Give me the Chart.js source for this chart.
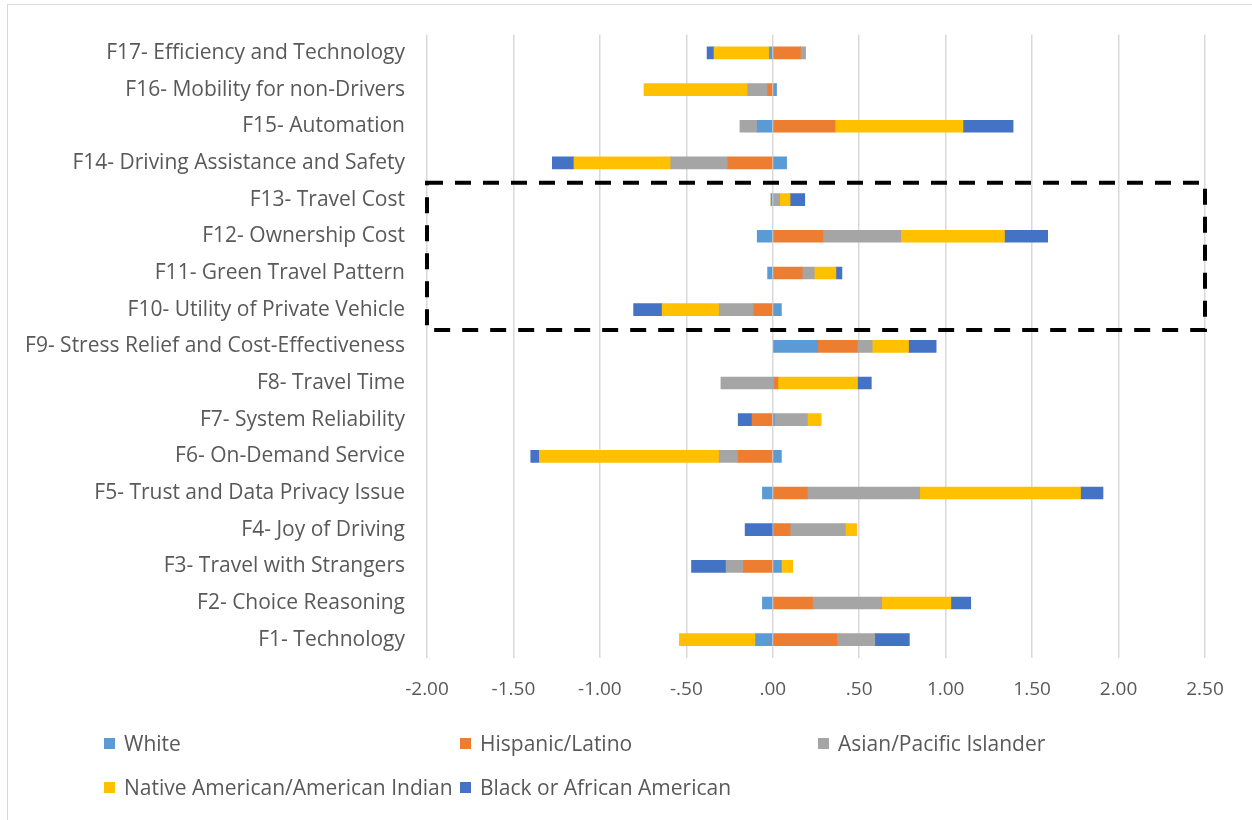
<!DOCTYPE html>
<html>
<head>
<meta charset="utf-8">
<script src="https://cdn.jsdelivr.net/npm/chart.js@4"></script>
<style>
  html, body { margin:0; padding:0; background:#fff; }
  #wrap { position:relative; width:1252px; height:820px; overflow:hidden; }
  #frame { position:absolute; left:7px; top:4px; width:1260px; height:830px; border:1px solid #d9d9d9; box-sizing:border-box; }
  canvas { position:absolute; left:0; top:0; }
  #legend { position:absolute; left:0; top:0; width:1252px; height:820px; pointer-events:none; font-family:"Open Sans", Lato, sans-serif; font-size:21px; color:#595959; }
  .li { position:absolute; display:flex; align-items:center; white-space:nowrap; }
  .sw { width:11px; height:11px; margin-right:9px; }
</style>
</head>
<body>
<div id="wrap">
  <div id="frame"></div>
  <canvas id="c" width="1252" height="820"></canvas>
  <div id="legend"></div>
</div>
<script>
const categories = [
  "F1- Technology",
  "F2- Choice Reasoning",
  "F3- Travel with Strangers",
  "F4- Joy of Driving",
  "F5- Trust and Data Privacy Issue",
  "F6- On-Demand Service",
  "F7- System Reliability",
  "F8- Travel Time",
  "F9- Stress Relief and Cost-Effectiveness",
  "F10- Utility of Private Vehicle",
  "F11- Green Travel Pattern",
  "F12- Ownership Cost",
  "F13- Travel Cost",
  "F14- Driving Assistance and Safety",
  "F15- Automation",
  "F16- Mobility for non-Drivers",
  "F17- Efficiency and Technology"
];
const seriesNames = ["White", "Hispanic/Latino", "Asian/Pacific Islander", "Native American/American Indian", "Black or African American"];
const seriesColors = ["#5b9bd5", "#ed7d31", "#a5a5a5", "#ffc000", "#4472c4"];
//                 F1     F2     F3     F4     F5     F6     F7     F8     F9     F10    F11    F12    F13    F14    F15    F16    F17
const white    = [-0.10, -0.06,  0.05,  0.00, -0.06,  0.05,  0.01,  0.00,  0.26,  0.05, -0.03, -0.09, -0.01,  0.08, -0.09,  0.02, -0.02];
const hispanic = [ 0.37,  0.23, -0.17,  0.10,  0.20, -0.20, -0.12,  0.03,  0.23, -0.11,  0.17,  0.29,  0.00, -0.26,  0.36, -0.03,  0.16];
const asian    = [ 0.22,  0.40, -0.10,  0.32,  0.65, -0.11,  0.19, -0.30,  0.085, -0.20, 0.07,  0.45,  0.04, -0.33, -0.10, -0.115, 0.03];
const native   = [-0.44,  0.40,  0.065, 0.065, 0.93, -1.04,  0.08,  0.46,  0.21, -0.33,  0.125, 0.60,  0.06, -0.56,  0.74, -0.60, -0.32];
const black    = [ 0.20,  0.115,-0.20, -0.16,  0.13, -0.05, -0.08,  0.08,  0.16, -0.165, 0.035, 0.25,  0.085,-0.125, 0.29,  0.00, -0.04];
const seriesValues = [white, hispanic, asian, native, black];
const xTicks = [-2.0, -1.5, -1.0, -0.5, 0, 0.5, 1.0, 1.5, 2.0, 2.5];
const xTickLabels = ["-2.00", "-1.50", "-1.00", "-.50", ".00", ".50", "1.00", "1.50", "2.00", "2.50"];
// dashed box around these categories
const boxFrom = "F10- Utility of Private Vehicle";
const boxTo = "F13- Travel Cost";

const FONT = "'Open Sans', Lato, sans-serif";

const datasets = seriesNames.map((n, i) => ({
  label: n,
  data: seriesValues[i],
  backgroundColor: seriesColors[i],
  borderWidth: 0,
  barThickness: 12
}));

const dashedBox = {
  id: 'dashedBox',
  afterDatasetsDraw(chart) {
    const ctx = chart.ctx;
    const y = chart.scales.y, x = chart.scales.x;
    const i1 = categories.indexOf(boxFrom), i2 = categories.indexOf(boxTo);
    const half = Math.abs(y.getPixelForValue(1) - y.getPixelForValue(0)) / 2;
    const yTop = y.getPixelForValue(i2) - half + 1.5;
    const yBot = y.getPixelForValue(i1) + half + 2;
    const xl = x.getPixelForValue(x.min), xr = x.getPixelForValue(x.max);
    ctx.save();
    ctx.strokeStyle = '#000';
    ctx.lineWidth = 4;
    ctx.setLineDash([16, 12]);
    ctx.strokeRect(xl, yTop, xr - xl, yBot - yTop);
    ctx.restore();
  }
};

new Chart(document.getElementById('c'), {
  type: 'bar',
  data: { labels: categories, datasets },
  options: {
    responsive: false,
    animation: false,
    indexAxis: 'y',
    layout: { padding: { top: 33, right: 47, left: 0, bottom: 0 } },
    plugins: { legend: { display: false }, tooltip: { enabled: false } },
    scales: {
      x: {
        stacked: true,
        min: -2, max: 2.5,
        afterBuildTicks(scale) { scale.ticks = xTicks.map(v => ({ value: v })); },
        afterFit(scale) { scale.height = 162; },
        grid: { color: '#d9d9d9', lineWidth: 1.5, drawTicks: false },
        border: { display: false },
        ticks: {
          padding: 20,
          color: '#595959',
          font: { family: FONT, size: 19 },
          callback: (v) => xTickLabels[xTicks.findIndex(t => Math.abs(t - v) < 1e-9)]
        }
      },
      y: {
        stacked: true,
        reverse: true,
        afterFit(scale) { scale.width = 427; },
        grid: { display: false, drawTicks: false },
        border: { display: false },
        ticks: {
          padding: 22,
          color: '#595959',
          font: { family: FONT, size: 21 },
          autoSkip: false
        }
      }
    }
  },
  plugins: [dashedBox]
});

// legend in the reference's grid layout
const legendPos = [[104, 743], [460, 743], [818, 743], [104, 787], [460, 787]];
const lg = document.getElementById('legend');
seriesNames.forEach((n, i) => {
  const d = document.createElement('div');
  d.className = 'li';
  d.style.left = legendPos[i][0] + 'px';
  d.style.top = (legendPos[i][1] - 14) + 'px';
  d.style.height = '28px';
  const s = document.createElement('span');
  s.className = 'sw';
  s.style.background = seriesColors[i];
  const t = document.createElement('span');
  t.textContent = n;
  d.appendChild(s); d.appendChild(t);
  lg.appendChild(d);
});
</script>
</body>
</html>
